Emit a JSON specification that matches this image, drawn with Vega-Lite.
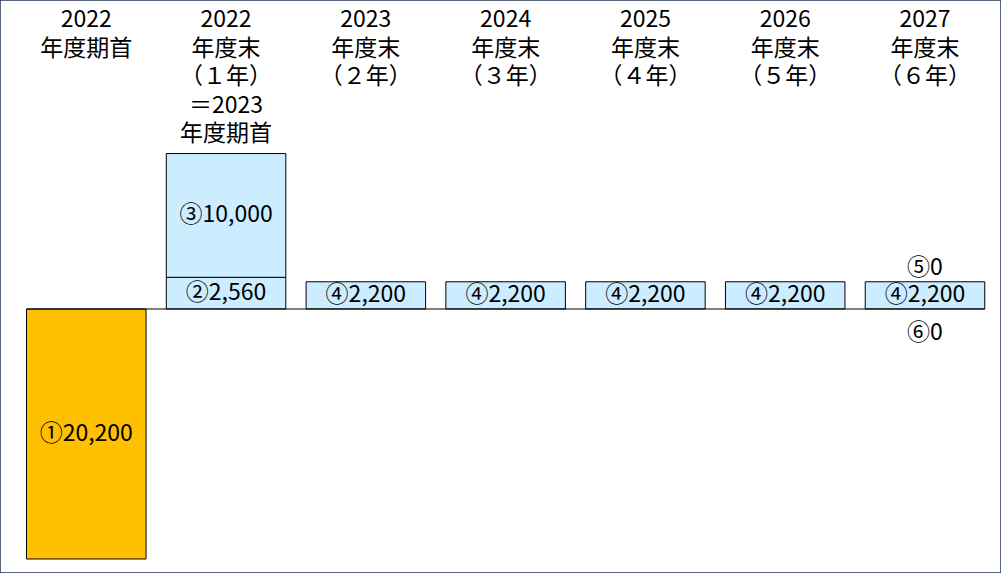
{
  "$schema": "https://vega.github.io/schema/vega-lite/v6.json",
  "autosize": {"type": "fit", "contains": "padding"},
  "width": 1001,
  "height": 573,
  "padding": 0,
  "background": "white",
  "config": {"view": {"stroke": "#1F3251", "strokeWidth": 1.5}},
  "datasets": {
    "bars": [
      {"col": "c0", "seg": 1, "value": -20200, "label": "①20,200", "kind": "initial"},
      {"col": "c1", "seg": 2, "value": 2560, "label": "②2,560", "kind": "flow"},
      {"col": "c1", "seg": 3, "value": 10000, "label": "③10,000", "kind": "flow"},
      {"col": "c2", "seg": 4, "value": 2200, "label": "④2,200", "kind": "flow"},
      {"col": "c3", "seg": 4, "value": 2200, "label": "④2,200", "kind": "flow"},
      {"col": "c4", "seg": 4, "value": 2200, "label": "④2,200", "kind": "flow"},
      {"col": "c5", "seg": 4, "value": 2200, "label": "④2,200", "kind": "flow"},
      {"col": "c6", "seg": 4, "value": 2200, "label": "④2,200", "kind": "flow"}
    ],
    "extra": [
      {"col": "c6", "pos": "above", "value": 2200, "label": "⑤0"},
      {"col": "c6", "pos": "below", "value": 0, "label": "⑥0"}
    ],
    "headers": [
      {"col": "c0", "header": "2022\n年度期首"},
      {"col": "c1", "header": "2022\n年度末\n（１年）\n＝2023\n年度期首"},
      {"col": "c2", "header": "2023\n年度末\n（２年）"},
      {"col": "c3", "header": "2024\n年度末\n（３年）"},
      {"col": "c4", "header": "2025\n年度末\n（４年）"},
      {"col": "c5", "header": "2026\n年度末\n（５年）"},
      {"col": "c6", "header": "2027\n年度末\n（６年）"}
    ]
  },
  "encoding": {
    "x": {
      "field": "col",
      "type": "nominal",
      "axis": null,
      "sort": ["c0", "c1", "c2", "c3", "c4", "c5", "c6"],
      "scale": {"paddingInner": 0.145, "paddingOuter": 0.153, "align": 0.62}
    }
  },
  "layer": [
    {
      "data": {"name": "bars"},
      "mark": {"type": "bar", "stroke": "black", "strokeWidth": 1},
      "encoding": {
        "y": {"field": "value", "type": "quantitative", "stack": "zero", "axis": null,
              "scale": {"domain": [-21332, 24968], "nice": false, "zero": false}},
        "order": {"field": "seg"},
        "color": {"field": "kind", "type": "nominal", "legend": null,
                  "scale": {"domain": ["initial", "flow"], "range": ["#FFC000", "#CCECFF"]}}
      }
    },
    {
      "data": {"name": "bars"},
      "mark": {"type": "rule", "color": "black", "strokeWidth": 1},
      "transform": [{"aggregate": [{"op": "count", "as": "n"}]}],
      "encoding": {
        "x": {"datum": "c0", "bandPosition": 0},
        "x2": {"datum": "c6", "bandPosition": 1},
        "y": {"datum": 0, "type": "quantitative"}
      }
    },
    {
      "data": {"name": "bars"},
      "transform": [
        {"stack": "value", "groupby": ["col"], "sort": [{"field": "seg"}], "as": ["v0", "v1"]},
        {"fold": ["v0", "v1"], "as": ["edge", "pos"]},
        {"aggregate": [{"op": "mean", "field": "pos", "as": "mid"}], "groupby": ["col", "label"]}
      ],
      "mark": {"type": "text", "font": "Noto Sans CJK JP", "fontSize": 23, "baseline": "middle", "color": "black"},
      "encoding": {
        "y": {"field": "mid", "type": "quantitative"},
        "text": {"field": "label"}
      }
    },
    {
      "data": {"name": "extra"},
      "transform": [{"filter": "datum.pos == 'above'"}],
      "mark": {"type": "text", "font": "Noto Sans CJK JP", "fontSize": 23, "baseline": "middle", "color": "black", "dy": -14},
      "encoding": {
        "y": {"field": "value", "type": "quantitative"},
        "text": {"field": "label"}
      }
    },
    {
      "data": {"name": "extra"},
      "transform": [{"filter": "datum.pos == 'below'"}],
      "mark": {"type": "text", "font": "Noto Sans CJK JP", "fontSize": 23, "baseline": "middle", "color": "black", "dy": 24},
      "encoding": {
        "y": {"field": "value", "type": "quantitative"},
        "text": {"field": "label"}
      }
    },
    {
      "data": {"name": "headers"},
      "mark": {"type": "text", "font": "Noto Sans CJK JP", "fontSize": 23, "baseline": "top", "lineBreak": "\n", "lineHeight": 28.5, "color": "black"},
      "encoding": {
        "y": {"value": 9},
        "text": {"field": "header"}
      }
    }
  ]
}
